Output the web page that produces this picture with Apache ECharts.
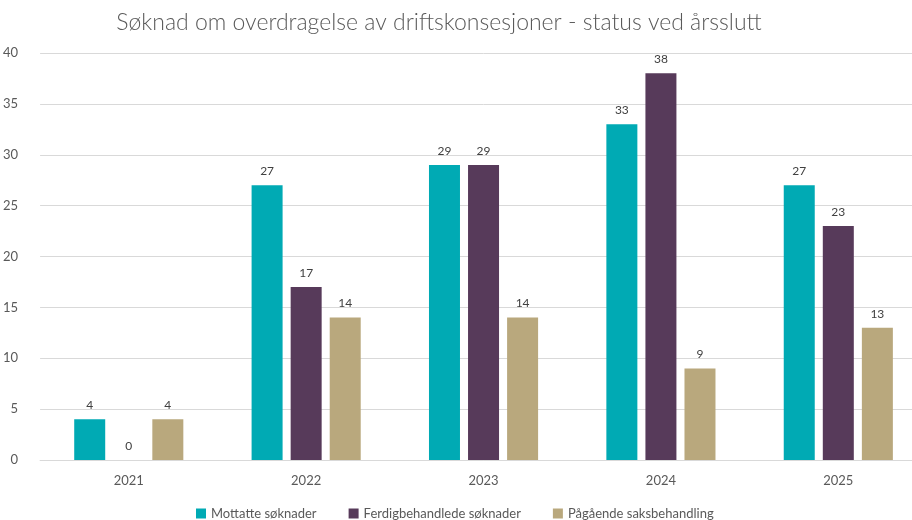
<!DOCTYPE html>
<html>
<head>
<meta charset="utf-8">
<script src="https://cdn.jsdelivr.net/npm/echarts@6/dist/echarts.min.js"></script>
<style>
html, body { margin: 0; padding: 0; background: #fff; overflow: hidden; }
#chart { width: 930px; height: 520px; }
</style>
</head>
<body>
<div id="chart"></div>
<script>
var years = ['2021', '2022', '2023', '2024', '2025'];
var mottatte = [4, 27, 29, 33, 27];
var ferdig = [0, 17, 29, 38, 23];
var pagaende = [4, 14, 14, 9, 13];
var seriesNames = ['Mottatte søknader', 'Ferdigbehandlede søknader', 'Pågående saksbehandling'];

var colors = ['#00AAB4', '#573A5A', '#B9A87D'];
var font = 'Lato, "Open Sans", sans-serif';

// the source chart is cropped on the right, so the canvas is a bit wider than the window
function barSeries(name, data, color) {
	return {
		name: name,
		type: 'bar',
		data: data,
		barWidth: 31,
		barGap: '26%',
		itemStyle: { color: color },
		label: {
			show: true,
			position: 'top',
			distance: 8,
			color: '#404040',
			fontSize: 12,
			fontFamily: font
		}
	};
}

var myChart = echarts.init(document.getElementById('chart'));
var option = {
	animation: false,
	title: {
		text: 'Søknad om overdragelse av driftskonsesjoner - status ved årsslutt',
		left: 434,
		top: 6,
		textAlign: 'center',
		textStyle: { fontSize: 23, fontWeight: 300, color: '#595959', fontFamily: font }
	},
	legend: {
		top: 502,
		left: 191,
		itemWidth: 10,
		itemHeight: 10,
		itemGap: 32,
		icon: 'rect',
		textStyle: { fontSize: 13, color: '#595959', fontFamily: font },
		data: seriesNames
	},
	grid: { left: 36, right: 3, top: 53, bottom: 60, containLabel: false },
	xAxis: {
		type: 'category',
		data: years,
		axisLine: { lineStyle: { color: '#d9d9d9' } },
		axisTick: { show: false },
		axisLabel: { color: '#595959', fontSize: 13, margin: 14, fontFamily: font }
	},
	yAxis: {
		type: 'value',
		min: 0,
		max: 40,
		interval: 5,
		axisLine: { show: false },
		axisTick: { show: false },
		axisLabel: { color: '#595959', fontSize: 13, margin: 22, fontFamily: font },
		splitLine: { lineStyle: { color: '#d9d9d9' } }
	},
	series: [
		barSeries(seriesNames[0], mottatte, colors[0]),
		barSeries(seriesNames[1], ferdig, colors[1]),
		barSeries(seriesNames[2], pagaende, colors[2])
	]
};
myChart.setOption(option);
</script>
</body>
</html>
